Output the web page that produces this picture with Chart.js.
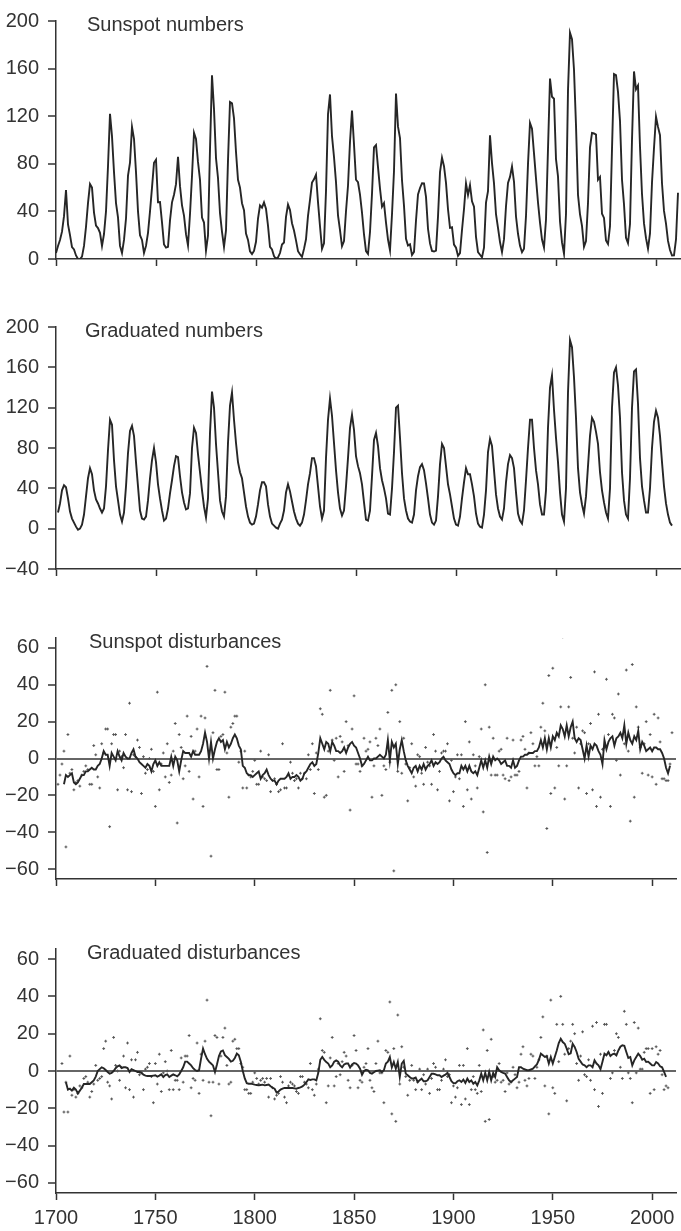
<!DOCTYPE html>
<html>
<head>
<meta charset="utf-8">
<title>Sunspot numbers and disturbances</title>
<script src="https://cdn.jsdelivr.net/npm/chart.js@4"></script>
<style>
    html, body { margin: 0; padding: 0; background: #fff; }
    #wrap { position: relative; width: 681px; height: 1231px; }
    #wrap canvas { position: absolute; left: 0; }
</style>
</head>
<body>
<div id="wrap">
    <canvas id="chart-sunspots" width="681" height="280" style="top:0px"></canvas>
    <canvas id="chart-graduated" width="681" height="310" style="top:280px"></canvas>
    <canvas id="chart-sun-dist" width="681" height="310" style="top:590px"></canvas>
    <canvas id="chart-grad-dist" width="681" height="331" style="top:900px"></canvas>
</div>
<script>
// Annual values. Each series starts at its own year.
const SUNSPOT_START = 1700;
const sunspotNumbers = [
    5, 11, 16, 23, 36, 58, 29, 20, 10, 8,
    3, 0, 0, 2, 11, 27, 47, 63, 60, 39,
    28, 26, 22, 11, 21, 40, 78, 122, 103, 73,
    47, 35, 11, 5, 16, 34, 70, 81, 111, 101,
    73, 40, 20, 16, 5, 11, 22, 40, 60, 80.9,
    83.4, 47.7, 47.8, 30.7, 12.2, 9.6, 10.2, 32.4, 47.6, 54,
    62.9, 85.9, 61.2, 45.1, 36.4, 20.9, 11.4, 37.8, 69.8, 106.1,
    100.8, 81.6, 66.5, 34.8, 30.6, 7, 19.8, 92.5, 154.4, 125.9,
    84.8, 68.1, 38.5, 22.8, 10.2, 24.1, 82.9, 132, 130.9, 118.1,
    89.9, 66.6, 60, 46.9, 41, 21.3, 16, 6.4, 4.1, 6.8,
    14.5, 34, 45, 43.1, 47.5, 42.2, 28.1, 10.1, 8.1, 2.5,
    0, 1.4, 5, 12.2, 13.9, 35.4, 45.8, 41.1, 30.1, 23.9,
    15.6, 6.6, 4, 1.8, 8.5, 16.6, 36.3, 49.6, 64.2, 67,
    70.9, 47.8, 27.5, 8.5, 13.2, 56.9, 121.5, 138.3, 103.2, 85.7,
    64.6, 36.7, 24.2, 10.7, 15, 40.1, 61.5, 98.5, 124.7, 96.3,
    66.6, 64.5, 54.1, 39, 20.6, 6.7, 4.3, 22.7, 54.8, 93.8,
    95.8, 77.2, 59.1, 44, 47, 30.5, 16.3, 7.3, 37.6, 74,
    139, 111.2, 101.6, 66.2, 44.7, 17, 11.3, 12.4, 3.4, 6,
    32.3, 54.3, 59.7, 63.7, 63.5, 52.2, 25.4, 13.1, 6.8, 6.3,
    7.1, 35.6, 73, 85.1, 78, 64, 41.8, 26.2, 26.7, 12.1,
    9.5, 2.7, 5, 24.4, 42, 63.5, 53.8, 62, 48.5, 43.9,
    18.6, 5.7, 3.6, 1.4, 9.6, 47.4, 57.1, 103.9, 80.6, 63.6,
    37.6, 26.1, 14.2, 5.8, 16.7, 44.3, 63.9, 69, 77.8, 64.9,
    35.7, 21.2, 11.1, 5.7, 8.7, 36.1, 79.7, 114.4, 109.6, 88.8,
    67.8, 47.5, 30.6, 16.3, 9.6, 33.2, 92.6, 151.6, 136.3, 134.7,
    83.9, 69.4, 31.5, 13.9, 4.4, 38, 141.7, 190.2, 184.8, 159,
    112.3, 53.9, 37.6, 27.9, 10.2, 15.1, 47, 93.8, 105.9, 105.5,
    104.5, 66.6, 68.9, 38, 34.5, 15.5, 12.6, 27.5, 92.5, 155.4,
    154.6, 140.4, 115.9, 66.6, 45.9, 17.9, 13.4, 29.4, 100.2, 157.6,
    142.6, 145.7, 94.3, 54.6, 29.9, 17.5, 8.6, 21.5, 64.3, 93.3,
    119.6, 111, 104, 63.7, 40.4, 29.8, 15.2, 7.5, 2.9, 3.1,
    16.5, 55.7,
];

const GRADUATED_START = 1701;
const graduatedNumbers = [
    16, 25, 38, 43, 41, 30, 17, 10, 6,
    2, -1, 0, 4, 14, 32, 50, 60, 54, 38,
    29, 25, 20, 16, 20, 42, 78, 108, 103, 68,
    42, 28, 14, 7, 16, 42, 75, 97, 102, 92,
    66, 42, 18, 10, 9, 12, 28, 50, 68, 80,
    66, 44, 30, 18, 8, 10, 20, 35, 48, 62,
    72, 71, 52, 36, 26, 19, 20, 35, 80, 100,
    95, 74, 56, 38, 22, 11, 30, 95, 136, 120,
    84, 56, 28, 17, 12, 32, 85, 122, 135, 108,
    85, 66, 56, 50, 36, 22, 12, 6, 4, 5,
    12, 24, 38, 46, 46, 42, 24, 12, 5, 3,
    1, 0, 5, 9, 18, 36, 44, 37, 27, 17,
    10, 5, 3, 6, 14, 28, 44, 55, 70, 70,
    62, 42, 22, 10, 18, 70, 108, 129, 112, 85,
    58, 36, 20, 13, 18, 42, 70, 100, 113, 98,
    72, 62, 55, 44, 26, 9, 8, 18, 52, 88,
    95, 82, 60, 48, 40, 30, 15, 14, 40, 76,
    120, 122, 90, 55, 30, 18, 10, 7, 6, 14,
    38, 52, 61, 64, 58, 45, 30, 14, 6, 4,
    8, 32, 64, 84, 80, 62, 44, 34, 22, 10,
    4, 3, 12, 30, 46, 60, 54, 54, 44, 32,
    15, 5, 2, 1, 14, 38, 76, 89, 82, 58,
    34, 20, 12, 9, 20, 46, 64, 73, 70, 60,
    36, 15, 8, 5, 18, 48, 80, 108, 108, 80,
    58, 44, 24, 14, 14, 38, 100, 140, 152, 118,
    90, 66, 36, 14, 7, 40, 135, 187, 180, 150,
    110, 60, 36, 24, 15, 32, 62, 92, 110, 106,
    96, 84, 56, 38, 26, 16, 10, 40, 120, 155,
    160, 142, 110, 56, 28, 14, 10, 50, 120, 156,
    158, 124, 70, 42, 28, 16, 16, 40, 80, 106,
    117, 110, 92, 66, 42, 25, 14, 6, 3,
];

// Sunspot disturbances: yearly points and the line through them
const SUN_DIST_START = 1701;
const sunspotDisturbances = [
    -14, -9, -3, 4, -48, 13, -8, -6, -17,
    -13, -12, -15, -9, -7, -4, -6, -14, -14, 7,
    2, -10, -16, 8, 3, 16, 16, -37, 8, 13,
    13, -17, 4, 1, -5, 13, -17, 30, -18, 2,
    1, 10, 6, -19, 1, -8, -6, 0, 5, -7,
    -26, 36, -17, -3, 3, -10, 8, -13, -9, 4,
    19, -35, 13, 6, -11, -4, 23, -7, 12, -22,
    4, 16, -10, 23, -26, 22, 50, 0, -53, 14,
    37, -6, -6, 12, 13, 36, 3, -21, 17, 19,
    23, 23, -2, 4, -16, 4, -16, -9, -10, -7,
    -1, -14, -14, 4, -10, -11, -12, 2, -18, -12,
    -11, -14, -18, -17, 8, -16, -16, -9, -2, -8,
    -12, -11, -16, -8, -11, -8, -11, 2, -6, 8,
    -19, 3, -6, 27, 24, -21, -20, 4, 37, 10,
    -1, 11, -10, 12, 9, -7, 20, 7, -28, 16,
    34, -3, -3, -7, -4, 11, 4, 5, 9, -21,
    -4, 11, 7, 16, -20, -4, -6, 25, -2, 37,
    -61, 40, -7, 20, -8, 11, -3, -23, -5, 8,
    -10, -15, 2, 1, -8, -14, 6, -2, -4, -14,
    13, 4, -17, -7, 3, 4, 4, 8, -23, -1,
    -18, -10, 2, -11, 2, -26, 20, -17, 9, -22,
    2, -4, -16, 1, 16, -29, 40, -51, 17, -9,
    11, -9, -9, 4, 5, -9, -11, 11, -12, -10,
    10, -9, -9, -7, 10, 12, 5, -16, 3, 14,
    8, -4, 1, -4, 17, 30, 15, -38, 45, -19,
    49, -16, 6, -4, 28, 66, -22, -4, 28, 44,
    11, 3, 17, -16, 8, 15, 14, -19, 8, 19,
    -17, 47, -26, 24, -21, 5, 6, 43, 13, -26,
    24, 22, -1, 35, -9, 13, 8, 48, 4, -34,
    51, -21, 28, 17, 6, -8, 8, 20, -9, 13,
    -10, 24, -14, 22, 9, -11, -11, -12, -12, -3,
    14,
];

const SUN_TREND_START = 1704;
const sunspotDisturbanceTrend = [
    -14, -9, -10, -9, -8, -13,
    -14, -13, -11, -9, -9, -7, -7, -6, -5, -6,
    -6, -4, -3, 0, 4, 2, 2, -4, 3, 1,
    -1, 4, 1, -1, 3, 1, 0, 0, 3, 5,
    1, 0, -2, -3, -4, -5, -3, -4, -7, -3,
    -1, -4, -2, -4, -4, -4, -4, -4, 1, -4,
    1, -1, -7, -1, 4, 3, 3, 3, 1, 4,
    2, 2, 2, 4, 8, 14, 9, 0, 9, 0,
    5, 9, 11, 9, 10, 5, 9, 6, 8, 11,
    13, 11, 7, 5, -4, -5, -8, -9, -9, -10,
    -9, -8, -7, -11, -9, -8, -6, -9, -11, -12,
    -12, -14, -12, -11, -11, -11, -10, -8, -11, -10,
    -10, -9, -10, -12, -11, -8, -7, -5, -3, -2,
    -4, -3, 3, 11, 8, 5, 9, 8, 4, 9,
    7, 4, 4, 3, 4, 6, 3, 6, 8, 9,
    7, 6, 3, 0, -4, -3, -1, 1, -1, -1,
    0, 0, 1, 2, 1, 0, 2, 10, -1, 9,
    6, 8, -3, 5, 10, 4, -1, -4, -6, -8,
    -5, -4, -7, -4, -6, -3, -6, -4, -3, -1,
    -4, -2, -3, -2, 0, 1, -1, -2, -3, -6,
    -8, -9, -8, -8, -4, -6, -4, -7, -4, -7,
    -8, -7, -9, -5, -1, -5, -1, -5, 1, -3,
    1, -1, 0, -1, -3, -2, -1, -4, -4, -5,
    -1, -5, -4, -1, 1, 1, 2, 2, 3, 3,
    3, 4, 4, 6, 10, 6, 11, 5, 11, 6,
    12, 10, 14, 12, 18, 16, 12, 18, 12, 17,
    20, 11, 9, 11, 10, 5, 0, 7, 1, 7,
    5, 8, 7, 4, 2, -3, 10, 5, 9, 11,
    12, 7, 11, 12, 14, 11, 18, 8, 14, 10,
    8, 12, 10, 15, 5, 9, 7, 4, 5, 6,
    4, 6, 6, 5, 5, 3, 0, -5, -8, -4,
];

// Graduated disturbances: yearly points and the line through them
const GRAD_DIST_START = 1703;
const graduatedDisturbances = [
    4, -22, -6, -22, 8, -13, -10,
    -14, -12, -8, -9, -4, -3, -6, -14, -11, -7,
    3, -5, -4, -3, 12, 16, -6, -8, -15, 18,
    3, 0, -5, 2, 8, -9, 15, -10, 6, -14,
    6, 10, -2, -1, -10, 1, 2, 4, -3, -17,
    4, -7, 9, -11, -1, 5, 0, -10, 11, -10,
    -5, -5, -10, 7, -6, 8, 8, 19, -9, -4,
    -5, 15, -12, 9, -5, 16, 38, -6, -24, -6,
    19, 18, -7, 8, 18, 23, 3, -7, -6, 16,
    17, 12, 12, 4, 2, -10, -10, -12, -12, -6,
    -1, -4, -7, -5, -4, -6, -4, -14, -4, -9,
    -15, -13, -12, -3, -6, -14, -17, -8, -6, -7,
    -8, -11, -12, -3, -3, -6, -7, -9, 4, -10,
    -13, -7, 1, 28, 11, 10, -17, -8, 7, 18,
    -8, -3, 4, -2, 5, 10, 8, -5, -9, 3,
    19, 11, -9, -5, -6, 2, 4, 12, -5, -9,
    -11, 4, 16, -1, -1, -17, 11, 10, 37, -23,
    12, -27, 30, -7, 13, 2, -3, -13, -5, 3,
    -5, -10, -6, 1, -10, -2, -7, 1, -12, -4,
    4, 2, -10, -10, -5, 1, 6, -3, -2, -17,
    -8, -14, -9, 3, -18, 3, -15, 12, -18, -10,
    -3, -10, -12, 3, -11, 22, -27, 11, -26, 17,
    -3, -6, -5, 4, -6, -5, -11, -1, -7, -6,
    2, -2, -9, -6, 9, 13, -5, -8, -4, 9,
    8, -4, 2, 6, 18, 29, -8, 8, -23, 38,
    -9, -12, 25, 5, 40, 25, 9, -16, 12, 16,
    25, 20, 4, -5, 8, 21, -2, -3, 6, -5,
    24, -10, 26, -19, 9, -12, 25, 25, 10, -4,
    -1, 11, 20, 18, 2, -4, 32, 25, -1, -4,
    -17, 26, -1, 23, 1, 1, 10, 12, 12, -12,
    12, -10, 13, 9, 11, -2, -10, -8, -9,
];

const GRAD_TREND_START = 1705;
const graduatedDisturbanceTrend = [
    -6, -10, -9.5, -10.5, -9,
    -10, -12, -10.5, -9, -7, -7, -7, -7, -6, -5,
    -3, 0, 1, 2, 1.5, 0.5, -0.5, -1.4, -1, 0,
    1.5, 2.5, 3, 1.6, 2, 2, 1.6, -0.5, 1, 0.5,
    0, -0.5, -0.5, -1, -2, -2.5, -2.7, -2.7, -2.7, -2.5,
    -2.3, -3, -2.5, -1.8, -3.2, -2.2, -1.8, -3.2, -2.5, -1.8,
    -2.3, -2.9, -1.8, 0, 2, 5, 5, 4, 3, 1.5,
    0.5, 0, 0.4, 6.6, 12, 9, 6.5, 5, 4, 3,
    -0.5, 3.5, 8, 10.5, 11, 8.5, 7.5, 6.5, 5, 5.5,
    7, 9.3, 8.4, 5, 0, -4, -6.5, -6.8, -6.8, -7,
    -7.3, -7.5, -7.7, -7.5, -7.3, -7.7, -7.5, -7.3, -8.2, -9,
    -9.5, -11.5, -11, -10, -9.5, -9.1, -9.1, -9.1, -9.1, -9.1,
    -9.3, -9.5, -9.1, -8.8, -8.3, -7.3, -6, -4.5, -4.8, -4.5,
    -4.5, -5, -1, 6, 7.5, 6, 4.8, 4, 2, 3,
    5, 5.7, 5, 3, 2, 3.5, 4, 4, 1.8, 3.5,
    4.3, 4, 3, 1.2, -2, 0, 0.7, 0.4, -1, -1.4,
    -0.7, 0, 0.2, 0.4, -0.5, 0.4, 4, 5, 7.5, 2,
    4.8, 1.2, 4.8, -3.2, 4, 5.4, -1.4, -2.3, -3.2, -4,
    -4, -3.5, -5.9, -5, -4.1, -5.5, -5.5, -5, -3.2, -1.5,
    -1.5, -1.8, -2.3, -2.3, -3.2, -2.5, -2, -1, -3.2, -5.5,
    -6.5, -6.6, -5.5, -5, -5.9, -4.6, -6.4, -4.1, -5.9, -5,
    -6.8, -5.9, -7.7, -5, -1.4, -5, -1, -5, -0.5, -5,
    -1, -3.2, 2, 0.4, -0.5, -1, -1.4, -3.2, -5, -5.9,
    -5, -4.1, -3.2, 2, 2, 1.2, 0.8, 0.4, 0.4, 0.8,
    1.2, 2.5, 3.5, 6, 9.3, 8.4, 7.5, 7.9, 4, 7.5,
    4, 7.5, 11, 15, 17.3, 15.5, 14.6, 12, 9, 9.5,
    14.6, 12.9, 10.2, 6.5, 5, 3.5, 3, 2, 3, 3,
    2, 5.7, 4, 3, 1, 5, 9.3, 8.4, 10.2, 8,
    8.9, 9.3, 8.4, 11, 13, 13.8, 13.5, 10.2, 7, 7.5,
    3, 5.7, 7.5, 9.3, 8, 6, 6.6, 4.8, 5, 4,
    3, 3, 4.8, 4, 2.5, 2, -0.5, -3.2,
];

const X_MIN = 1700;
const X_MAX = 2012;
const X_STEP = 50;

const INK = '#262626';
const AXIS = '#333333';
const FONT = { family: '"Liberation Sans", Arial, Helvetica, sans-serif', size: 20 };

Chart.defaults.font.family = FONT.family;
Chart.defaults.font.size = FONT.size;
Chart.defaults.color = '#333';

function toPoints(start, values) {
    return values.map((v, i) => ({ x: start + i, y: v }));
}

function tickText(v) {
    return v < 0 ? '\u2212' + Math.abs(v) : String(v);
}

// writes the panel name inside the plot, near the top left
const panelTitle = {
    id: 'panelTitle',
    afterDraw(chart, args, opts) {
        const { ctx, chartArea } = chart;
        ctx.save();
        ctx.font = `${FONT.size}px ${FONT.family}`;
        ctx.fillStyle = '#333';
        ctx.textBaseline = 'middle';
        ctx.textAlign = 'left';
        ctx.fillText(opts.text, chartArea.left + opts.dx, chartArea.top + opts.dy);
        ctx.restore();
    },
};

function lineSet(points) {
    return {
        data: points,
        borderColor: INK,
        borderWidth: 1.9,
        pointRadius: 0,
        tension: 0,
        fill: false,
        order: 1,
    };
}

function dotSet(points) {
    return {
        data: points,
        showLine: false,
        pointStyle: 'cross',
        pointRadius: 1.4,
        pointBorderColor: '#555',
        pointBorderWidth: 1,
        order: 2,
    };
}

function renderPanel(id, p) {
    const ctx = document.getElementById(id);
    new Chart(ctx, {
        type: 'line',
        data: { datasets: p.datasets },
        plugins: [panelTitle],
        options: {
            responsive: false,
            animation: false,
            events: [],
            layout: { padding: { top: p.padTop, right: 1, left: 0, bottom: 0 } },
            plugins: {
                legend: { display: false },
                tooltip: { enabled: false },
                panelTitle: { text: p.title, dx: p.titleDx, dy: 4 },
            },
            scales: {
                x: {
                    type: 'linear',
                    min: X_MIN,
                    max: X_MAX,
                    afterFit: s => { s.height = p.xHeight; },
                    border: { color: AXIS, width: 1.5 },
                    grid: { drawOnChartArea: false, tickLength: 7, tickColor: AXIS, tickWidth: 1.5 },
                    ticks: {
                        display: p.showYears,
                        stepSize: X_STEP,
                        includeBounds: false,
                        padding: 6,
                        maxRotation: 0,
                        color: '#333',
                        callback: v => String(v),
                    },
                },
                y: {
                    type: 'linear',
                    min: p.yMin,
                    max: p.yMax,
                    afterFit: s => { s.width = 56; },
                    border: { color: AXIS, width: 1.5 },
                    grid: {
                        drawOnChartArea: p.zeroLine,
                        color: c => (c.tick && c.tick.value === 0 ? '#666' : 'rgba(0,0,0,0)'),
                        lineWidth: 2,
                        tickLength: 8,
                        tickColor: AXIS,
                        tickWidth: 1.5,
                    },
                    ticks: {
                        stepSize: p.yStep,
                        includeBounds: false,
                        padding: 9,
                        color: '#333',
                        callback: tickText,
                    },
                },
            },
        },
    });
}

renderPanel('chart-sunspots', {
    title: 'Sunspot numbers', titleDx: 31,
    padTop: 15, xHeight: 20, showYears: false, zeroLine: false,
    yMin: 0, yMax: 200, yStep: 40,
    datasets: [lineSet(toPoints(SUNSPOT_START, sunspotNumbers))],
});

renderPanel('chart-graduated', {
    title: 'Graduated numbers', titleDx: 29,
    padTop: 47, xHeight: 19, showYears: false, zeroLine: false,
    yMin: -40, yMax: 200, yStep: 40,
    datasets: [lineSet(toPoints(GRADUATED_START, graduatedNumbers))],
});

renderPanel('chart-sun-dist', {
    title: 'Sunspot disturbances', titleDx: 33,
    padTop: 48, xHeight: 18, showYears: false, zeroLine: true,
    yMin: -65.4, yMax: 65.4, yStep: 20,
    datasets: [
        dotSet(toPoints(SUN_DIST_START, sunspotDisturbances)),
        lineSet(toPoints(SUN_TREND_START, sunspotDisturbanceTrend)),
    ],
});

renderPanel('chart-grad-dist', {
    title: 'Graduated disturbances', titleDx: 31,
    padTop: 49, xHeight: 38, showYears: true, zeroLine: true,
    yMin: -65.4, yMax: 65.4, yStep: 20,
    datasets: [
        dotSet(toPoints(GRAD_DIST_START, graduatedDisturbances)),
        lineSet(toPoints(GRAD_TREND_START, graduatedDisturbanceTrend)),
    ],
});
</script>
</body>
</html>
